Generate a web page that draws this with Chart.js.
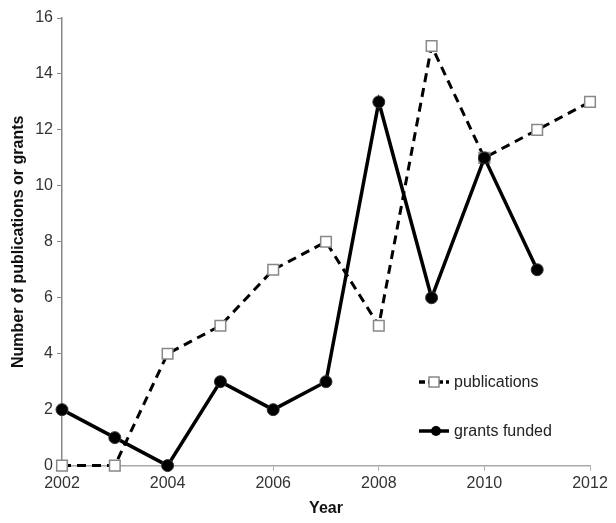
<!DOCTYPE html>
<html lang="en">
<head>
    <meta charset="UTF-8">
    <title>Publications and grants</title>
    <script src="https://cdn.jsdelivr.net/npm/chart.js"></script>
    <style>
        body { margin: 0; background: #fff; }
        #wrap { width: 616px; height: 523px; }
    </style>
</head>
<body>
    <div id="wrap"><canvas id="chart"></canvas></div>
</body>

<script>
// data
const years = [2002, 2003, 2004, 2005, 2006, 2007, 2008, 2009, 2010, 2011, 2012];
const publications = [0, 0, 4, 5, 7, 8, 5, 15, 11, 12, 13];
const grantsFunded = [2, 1, 0, 3, 2, 3, 13, 6, 11, 7];

const FONT = "'Liberation Sans', Arial, sans-serif";

function toPoints(xs, ys) {
    let out = [];
    for (let i = 0; i < ys.length; i++) {
        out.push({x: xs[i], y: ys[i]});
    }
    return out;
}

// legend drawn inside the plot area, lower right
const innerLegend = {
    id: 'innerLegend',
    afterDraw(chart) {
        const ctx = chart.ctx;
        const items = [
            {label: 'publications', dash: [6, 3], style: 'rect'},
            {label: 'grants funded', dash: [], style: 'circle'}
        ];
        const x0 = 419, ys = [382, 431];
        ctx.save();
        items.forEach((it, i) => {
            const y = ys[i];
            ctx.strokeStyle = '#000';
            ctx.lineWidth = 3.5;
            ctx.setLineDash(it.dash);
            ctx.beginPath();
            ctx.moveTo(x0, y);
            ctx.lineTo(x0 + 30, y);
            ctx.stroke();
            ctx.setLineDash([]);
            if (it.style === 'rect') {
                ctx.fillStyle = '#fff';
                ctx.strokeStyle = '#888';
                ctx.lineWidth = 1.5;
                ctx.fillRect(x0 + 10, y - 5, 10, 10);
                ctx.strokeRect(x0 + 10, y - 5, 10, 10);
            } else {
                ctx.fillStyle = '#000';
                ctx.beginPath();
                ctx.arc(x0 + 17, y, 5, 0, Math.PI * 2);
                ctx.fill();
            }
            ctx.fillStyle = '#222';
            ctx.font = '16px ' + FONT;
            ctx.textBaseline = 'middle';
            ctx.fillText(it.label, x0 + 35, y + 1);
        });
        ctx.restore();
    }
};

const ctx = document.getElementById('chart');
new Chart(ctx, {
    type: 'line',
    data: {
        datasets: [{
            label: 'publications',
            data: toPoints(years, publications),
            order: 1,
            clip: false,
            borderColor: '#000',
            borderWidth: 3,
            borderDash: [9, 6],
            pointStyle: 'rect',
            pointRadius: 7.5,
            pointBackgroundColor: '#fff',
            pointBorderColor: '#888',
            pointBorderWidth: 1.5,
            tension: 0
        }, {
            label: 'grants funded',
            data: toPoints(years, grantsFunded),
            order: 0,
            clip: false,
            borderColor: '#000',
            borderWidth: 3.5,
            pointStyle: 'circle',
            pointRadius: 6,
            pointBackgroundColor: '#000',
            pointBorderColor: '#333',
            pointBorderWidth: 1,
            tension: 0
        }]
    },
    options: {
        responsive: true,
        maintainAspectRatio: false,
        animation: false,
        layout: { padding: { top: 18, right: 26, left: 5, bottom: 1 } },
        plugins: {
            legend: { display: false },
            tooltip: { enabled: false }
        },
        scales: {
            x: {
                type: 'linear',
                min: 2002,
                max: 2012,
                border: { color: '#aaa', width: 1.5 },
                grid: { drawOnChartArea: false, color: '#aaa', tickLength: 5 },
                ticks: {
                    stepSize: 2,
                    color: '#333',
                    font: { family: FONT, size: 16 },
                    padding: 3,
                    callback: v => String(v)
                },
                title: {
                    display: true,
                    text: 'Year',
                    color: '#111',
                    font: { family: FONT, size: 16, weight: 'bold' },
                    padding: { top: 3 }
                }
            },
            y: {
                min: 0,
                max: 16,
                border: { color: '#888', width: 1.5 },
                grid: { drawOnChartArea: false, color: '#888', tickLength: 5 },
                ticks: {
                    stepSize: 2,
                    color: '#333',
                    font: { family: FONT, size: 16 },
                    padding: 4
                },
                title: {
                    display: true,
                    text: 'Number of publications or grants',
                    color: '#111',
                    font: { family: FONT, size: 16, weight: 'bold' },
                    padding: { bottom: 3 }
                }
            }
        }
    },
    plugins: [innerLegend]
});
</script>
</html>
